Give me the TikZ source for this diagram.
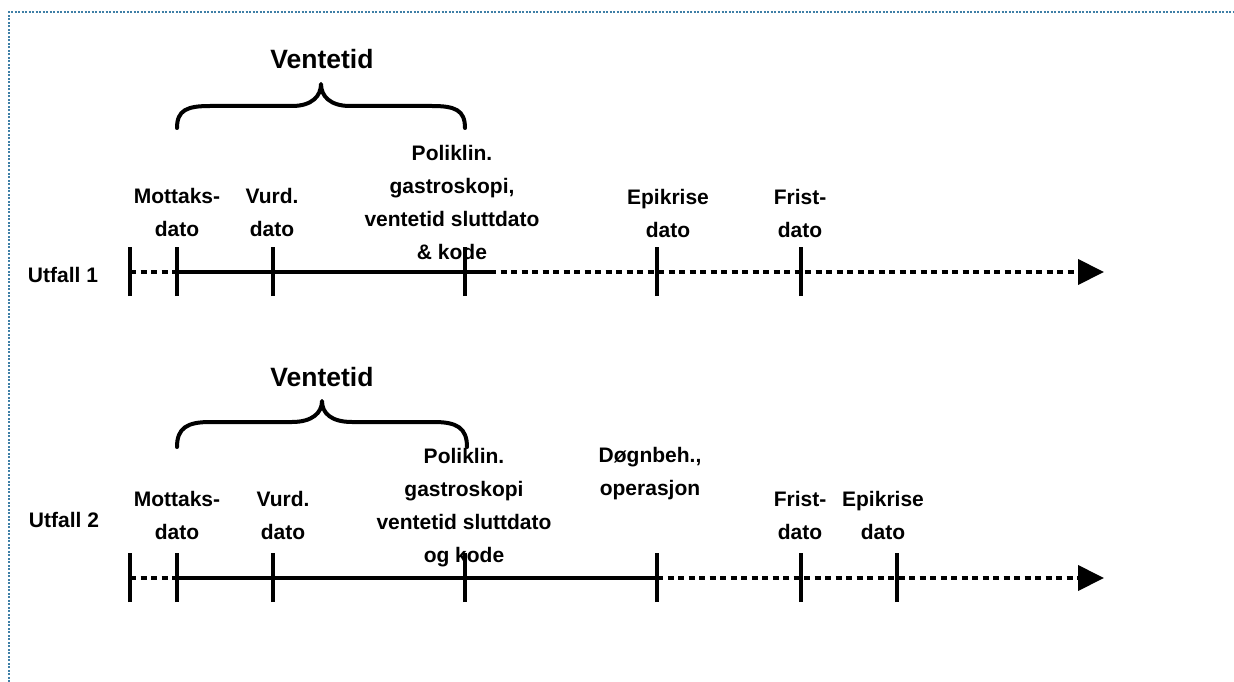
\documentclass[tikz,border=0pt]{standalone}
\usepackage{fontspec}
\setmainfont{Liberation Sans}
\usetikzlibrary{arrows.meta}
\definecolor{framec}{HTML}{3F7FA6}
\tikzset{
  lbl/.style={font=\bfseries\fontsize{21}{33}\selectfont, align=center, inner sep=0pt},
  ttl/.style={font=\bfseries\fontsize{26.5}{30}\selectfont, inner sep=0pt},
  solidline/.style={line width=4pt},
  dotline/.style={line width=4pt, dash pattern=on 6pt off 4.5pt},
  tick/.style={line width=4pt},
  bracec/.style={line width=4pt, line cap=round, line join=round},
  arrowline/.style={line width=4pt, dash pattern=on 6pt off 4.5pt, -{Triangle[length=26pt,width=25pt]}},
}
\begin{document}
\begin{tikzpicture}[x=1pt,y=-1pt]
\useasboundingbox (0,0) rectangle (1234,682);
\draw[framec, line width=1.5pt, dash pattern=on 2pt off 1.5pt] (9,682) -- (9,12) -- (1234,12);

% ---------- Utfall 1 ----------
\node[ttl] (v1) at (322,59) {Ventetid};
\draw[bracec] (177,128) .. controls (177,110) and (187,106) .. (210,106) -- (292,106)
  .. controls (312,106) and (321,96) .. (321,84)
  .. controls (321,96) and (330,106) .. (350,106) -- (432,106)
  .. controls (455,106) and (465,110) .. (465,128);

\coordinate (a0) at (130,272);
\coordinate (a1) at (177,272);
\coordinate (a2) at (273,272);
\coordinate (a3) at (465,272);
\coordinate (a3b) at (490,272);
\coordinate (a4) at (657,272);
\coordinate (a5) at (801,272);
\coordinate (a6) at (1104,272);

\draw[dotline] (a0) -- (a1);
\draw[solidline] (a1) -- (a3b);
\draw[arrowline] (a3b) -- (a6);
\foreach \p in {a0,a1,a2,a3,a4,a5}
  \draw[tick] ([yshift=-24pt]\p) -- ([yshift=25pt]\p);

\node[lbl] (u1) at (63,275) {Utfall 1};
\node[lbl] (m1) at (177,212) {Mottaks-\\dato};
\node[lbl] (r1) at (272,212) {Vurd.\\dato};
\node[lbl] (p1) at (452,202) {Poliklin.\\gastroskopi,\\ventetid sluttdato\\\& kode};
\node[lbl] (e1) at (668,213) {Epikrise\\dato};
\node[lbl] (f1) at (800,213) {Frist-\\dato};

% ---------- Utfall 2 ----------
\node[ttl] (v2) at (322,377) {Ventetid};
\draw[bracec] (177,447) .. controls (177,428) and (187,422) .. (210,422) -- (292,422)
  .. controls (312,422) and (322,413) .. (322,401)
  .. controls (322,413) and (331,422) .. (352,422) -- (434,422)
  .. controls (457,422) and (467,428) .. (467,447);

\coordinate (b0) at (130,578);
\coordinate (b1) at (177,578);
\coordinate (b2) at (273,578);
\coordinate (b3) at (465,578);
\coordinate (b4) at (657,578);
\coordinate (b5) at (801,578);
\coordinate (b6) at (897,578);
\coordinate (b7) at (1104,578);

\draw[dotline] (b0) -- (b1);
\draw[solidline] (b1) -- (b4);
\draw[arrowline] (b4) -- (b7);
\foreach \p in {b0,b1,b2,b3,b4,b5,b6}
  \draw[tick] ([yshift=-24pt]\p) -- ([yshift=25pt]\p);

\node[lbl] (u2) at (64,520) {Utfall 2};
\node[lbl] (m2) at (177,515) {Mottaks-\\dato};
\node[lbl] (r2) at (283,515) {Vurd.\\dato};
\node[lbl] (p2) at (464,508) {Poliklin.\\gastroskopi\\ventetid sluttdato\\og kode};
\node[lbl] (d2) at (650,474) {Døgnbeh.,\\operasjon};
\node[lbl] (f2) at (800,515) {Frist-\\dato};
\node[lbl] (e2) at (883,515) {Epikrise\\dato};
\end{tikzpicture}
\end{document}
